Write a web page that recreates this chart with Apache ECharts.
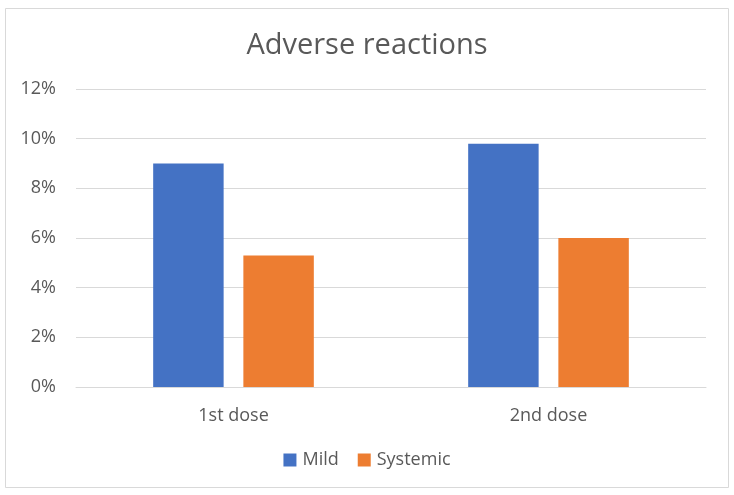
<!DOCTYPE html>
<html><head><meta charset="utf-8">
<script src="https://cdn.jsdelivr.net/npm/echarts@6/dist/echarts.min.js"></script>
<style>html,body{margin:0;padding:0;background:#fff}#c{width:734px;height:495px}</style>
</head><body><div id="c"></div>
<script>
const categories = ['1st dose', '2nd dose'];
const mild = [9.0, 9.8];
const systemic = [5.3, 6.0];
const seriesNames = ['Mild', 'Systemic'];
const titleText = 'Adverse reactions';

const font = 'Open Sans, Noto Sans, sans-serif';
const chart = echarts.init(document.getElementById('c'), null, {renderer: 'canvas'});
chart.setOption({
  animation: false,
  backgroundColor: '#fff',
  graphic: [{type: 'rect', shape: {x: 5.5, y: 8.5, width: 723, height: 479},
    style: {fill: 'none', stroke: '#D9D9D9', lineWidth: 1}, silent: true}],
  title: {text: titleText, left: 'center', top: 26,
    textStyle: {fontFamily: font, fontSize: 29, fontWeight: 'normal', color: '#595959'}},
  legend: {bottom: 21, left: 'center', itemWidth: 13, itemHeight: 13, itemGap: 19,
    icon: 'rect', textStyle: {fontFamily: font, fontSize: 18, color: '#595959', padding: [0, 0, 0, 1]}},
  grid: {left: 76, right: 28, top: 89, bottom: 108},
  xAxis: {type: 'category', data: categories,
    axisLine: {lineStyle: {color: '#D9D9D9'}}, axisTick: {show: false},
    axisLabel: {fontFamily: font, fontSize: 18, color: '#595959', margin: 20}},
  yAxis: {type: 'value', min: 0, max: 12, interval: 2,
    axisLine: {show: false}, axisTick: {show: false},
    splitLine: {lineStyle: {color: '#D9D9D9'}},
    axisLabel: {fontFamily: font, fontSize: 18, color: '#595959', margin: 20,
      formatter: v => v + '%'}},
  series: [
    {name: seriesNames[0], type: 'bar', data: mild, itemStyle: {color: '#4472C4'},
      barGap: '28%', barCategoryGap: '49%'},
    {name: seriesNames[1], type: 'bar', data: systemic, itemStyle: {color: '#ED7D31'}}
  ]
});
</script></body></html>
